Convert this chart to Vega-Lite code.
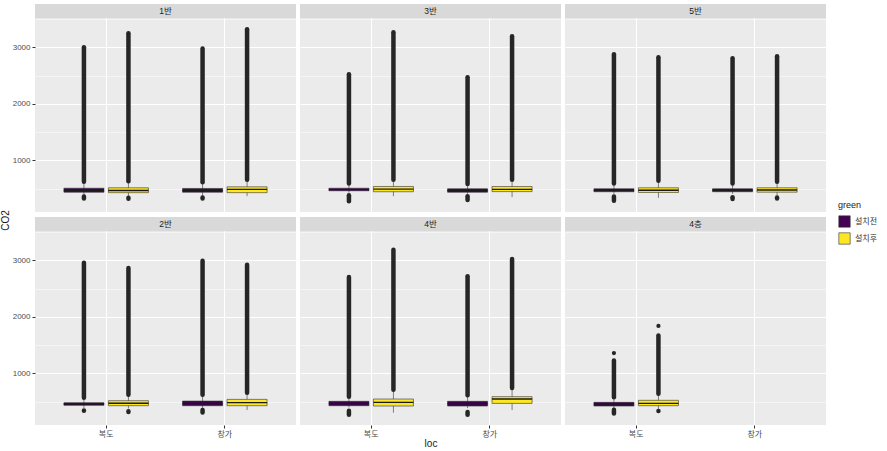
{
  "$schema": "https://vega.github.io/schema/vega-lite/v6.json",
  "padding": {"left": 0, "top": 4, "right": 5, "bottom": 5},
  "background": "white",
  "config": {
    "font": "Liberation Sans, Noto Sans CJK KR, sans-serif",
    "view": {"fill": "#EBEBEB", "stroke": null},
    "axis": {"domain": false, "labelColor": "#4D4D4D", "labelFontSize": 8, "tickColor": "#333333", "tickSize": 3, "titleFontWeight": "normal", "titleFontSize": 10, "titleColor": "#1A1A1A", "gridColor": "#FFFFFF"},
    "legend": {"orient": "none", "legendX": 803, "legendY": 197}
  },
  "data": {"values": [
    {"panel": "1반", "loc": "복도", "green": "설치전", "lo": 380, "q1": 440, "med": 475, "q3": 510, "hi": 600, "ohs": 625, "ohe": 3000, "ols": 330, "ole": 365},
    {"panel": "1반", "loc": "복도", "green": "설치후", "lo": 370, "q1": 432, "med": 470, "q3": 518, "hi": 610, "ohs": 635, "ohe": 3250, "ols": 325, "ole": 340},
    {"panel": "1반", "loc": "창가", "green": "설치전", "lo": 370, "q1": 440, "med": 470, "q3": 506, "hi": 590, "ohs": 615, "ohe": 2980, "ols": 330, "ole": 345},
    {"panel": "1반", "loc": "창가", "green": "설치후", "lo": 370, "q1": 432, "med": 490, "q3": 535, "hi": 640, "ohs": 660, "ohe": 3320},
    {"panel": "3반", "loc": "복도", "green": "설치전", "lo": 430, "q1": 465, "med": 485, "q3": 510, "hi": 570, "ohs": 595, "ohe": 2525, "ols": 280, "ole": 385},
    {"panel": "3반", "loc": "복도", "green": "설치후", "lo": 370, "q1": 448, "med": 494, "q3": 541, "hi": 636, "ohs": 660, "ohe": 3265},
    {"panel": "3반", "loc": "창가", "green": "설치전", "lo": 410, "q1": 440, "med": 470, "q3": 500, "hi": 560, "ohs": 585, "ohe": 2470, "ols": 300, "ole": 370},
    {"panel": "3반", "loc": "창가", "green": "설치후", "lo": 353, "q1": 450, "med": 490, "q3": 540, "hi": 636, "ohs": 660, "ohe": 3195},
    {"panel": "5반", "loc": "복도", "green": "설치전", "lo": 410, "q1": 448, "med": 475, "q3": 500, "hi": 570, "ohs": 595, "ohe": 2875, "ols": 290, "ole": 365},
    {"panel": "5반", "loc": "복도", "green": "설치후", "lo": 340, "q1": 435, "med": 475, "q3": 518, "hi": 615, "ohs": 640, "ohe": 2825},
    {"panel": "5반", "loc": "창가", "green": "설치전", "lo": 410, "q1": 448, "med": 475, "q3": 500, "hi": 570, "ohs": 595, "ohe": 2805, "ols": 320, "ole": 350},
    {"panel": "5반", "loc": "창가", "green": "설치후", "lo": 380, "q1": 440, "med": 480, "q3": 518, "hi": 600, "ohs": 625, "ohe": 2840, "ols": 330, "ole": 345},
    {"panel": "2반", "loc": "복도", "green": "설치전", "lo": 390, "q1": 437, "med": 460, "q3": 485, "hi": 545, "ohs": 570, "ohe": 2955, "ols": 340, "ole": 345},
    {"panel": "2반", "loc": "복도", "green": "설치후", "lo": 380, "q1": 431, "med": 475, "q3": 520, "hi": 600, "ohs": 625, "ohe": 2865, "ols": 320, "ole": 335},
    {"panel": "2반", "loc": "창가", "green": "설치전", "lo": 390, "q1": 431, "med": 470, "q3": 513, "hi": 600, "ohs": 625, "ohe": 2990, "ols": 310, "ole": 355},
    {"panel": "2반", "loc": "창가", "green": "설치후", "lo": 354, "q1": 431, "med": 485, "q3": 543, "hi": 638, "ohs": 660, "ohe": 2920},
    {"panel": "4반", "loc": "복도", "green": "설치전", "lo": 400, "q1": 431, "med": 470, "q3": 508, "hi": 561, "ohs": 590, "ohe": 2705, "ols": 270, "ole": 340},
    {"panel": "4반", "loc": "복도", "green": "설치후", "lo": 307, "q1": 425, "med": 490, "q3": 549, "hi": 690, "ohs": 715, "ohe": 3185},
    {"panel": "4반", "loc": "창가", "green": "설치전", "lo": 390, "q1": 425, "med": 470, "q3": 508, "hi": 590, "ohs": 615, "ohe": 2720, "ols": 270, "ole": 320},
    {"panel": "4반", "loc": "창가", "green": "설치후", "lo": 354, "q1": 472, "med": 549, "q3": 591, "hi": 720, "ohs": 745, "ohe": 3025},
    {"panel": "4층", "loc": "복도", "green": "설치전", "lo": 390, "q1": 425, "med": 465, "q3": 490, "hi": 556, "ohs": 580, "ohe": 1230, "ols": 295, "ole": 360, "pt": 1360},
    {"panel": "4층", "loc": "복도", "green": "설치후", "lo": 345, "q1": 431, "med": 472, "q3": 526, "hi": 615, "ohs": 640, "ohe": 1670, "ols": 336, "ole": 336, "pt": 1840}
  ]},
  "bounds": "flush",
  "columns": 3,
  "spacing": {"row": 5, "column": 4},
  "concat": [
      {"width": 261, "height": 208, "transform": [{"filter": {"field": "panel", "equal": "1반"}}], "resolve": {"axis": {"y": "independent"}}, "layer": [
        {"mark": {"type": "rule", "color": "#333333", "strokeWidth": 0.6}, "encoding": {
          "x": {"field": "loc", "type": "nominal", "scale": {"domain": ["복도", "창가"], "paddingInner": 0, "paddingOuter": 0.1}, "axis": {"grid": true, "gridWidth": 1.1, "bandPosition": 0.5, "labels": false, "ticks": false, "title": null}},
          "xOffset": {"field": "green", "type": "nominal", "scale": {"domain": ["설치전", "설치후"], "paddingInner": 0.1, "paddingOuter": 0.383}},
          "y": {"field": "lo", "type": "quantitative", "scale": {"domain": [90, 3765], "nice": false, "zero": false}, "axis": {"values": [1000, 2000, 3000], "format": "d", "grid": true, "gridWidth": 1.1, "labelPadding": 2, "title": "CO2", "titleY": 216, "titlePadding": 2}},
          "y2": {"field": "hi"}}},
        {"transform": [{"aggregate": [{"op": "count", "as": "n"}], "groupby": ["panel"]}], "mark": {"type": "rect", "color": "#D9D9D9"}, "encoding": {
          "y": {"datum": 3515, "type": "quantitative", "axis": {"orient": "right", "values": [500, 1500, 2500, 3500], "grid": true, "gridWidth": 0.5, "labels": false, "ticks": false, "title": null}},
          "y2": {"datum": 3765}}},
        {"transform": [{"aggregate": [{"op": "count", "as": "n"}], "groupby": ["panel"]}], "mark": {"type": "text", "fontSize": 8.5, "color": "#1A1A1A", "baseline": "middle"}, "encoding": {
          "text": {"field": "panel", "type": "nominal"}, "y": {"datum": 3640, "type": "quantitative", "axis": null}}},
        {"mark": {"type": "rule", "color": "#262626", "strokeWidth": 4.5, "strokeCap": "round"}, "encoding": {
          "x": {"field": "loc", "type": "nominal"}, "xOffset": {"field": "green", "type": "nominal"},
          "y": {"field": "ohs", "type": "quantitative", "axis": null}, "y2": {"field": "ohe"}}},
        {"mark": {"type": "rule", "color": "#262626", "strokeWidth": 4.5, "strokeCap": "round"}, "encoding": {
          "x": {"field": "loc", "type": "nominal"}, "xOffset": {"field": "green", "type": "nominal"},
          "y": {"field": "ols", "type": "quantitative", "axis": null}, "y2": {"field": "ole"}}},
        {"mark": {"type": "bar", "stroke": "#333333", "strokeWidth": 0.6}, "encoding": {
          "x": {"field": "loc", "type": "nominal"}, "xOffset": {"field": "green", "type": "nominal"},
          "y": {"field": "q1", "type": "quantitative", "axis": null}, "y2": {"field": "q3"},
          "fill": {"field": "green", "type": "nominal", "scale": {"domain": ["설치전", "설치후"], "range": ["#440154", "#FDE725"]},
                   "legend": {"title": "green", "symbolType": "square", "symbolSize": 130, "symbolStrokeColor": "#333333", "symbolStrokeWidth": 0.6, "titleFontSize": 9, "titleFontWeight": "normal", "titleColor": "#1A1A1A", "labelFontSize": 8, "labelColor": "#333333", "rowPadding": 2}}}},
        {"mark": {"type": "bar", "fillOpacity": 0, "stroke": "#1A1A1A", "strokeWidth": 1.4}, "encoding": {
          "x": {"field": "loc", "type": "nominal"}, "xOffset": {"field": "green", "type": "nominal"},
          "y": {"field": "med", "type": "quantitative", "axis": null}, "y2": {"field": "med"}}}
      ]},
      {"width": 261, "height": 208, "transform": [{"filter": {"field": "panel", "equal": "3반"}}], "resolve": {"axis": {"y": "independent"}}, "layer": [
        {"mark": {"type": "rule", "color": "#333333", "strokeWidth": 0.6}, "encoding": {
          "x": {"field": "loc", "type": "nominal", "scale": {"domain": ["복도", "창가"], "paddingInner": 0, "paddingOuter": 0.1}, "axis": {"grid": true, "gridWidth": 1.1, "bandPosition": 0.5, "labels": false, "ticks": false, "title": null}},
          "xOffset": {"field": "green", "type": "nominal", "scale": {"domain": ["설치전", "설치후"], "paddingInner": 0.1, "paddingOuter": 0.383}},
          "y": {"field": "lo", "type": "quantitative", "scale": {"domain": [90, 3765], "nice": false, "zero": false}, "axis": {"values": [1000, 2000, 3000], "grid": true, "gridWidth": 1.1, "labels": false, "ticks": false, "title": null}},
          "y2": {"field": "hi"}}},
        {"transform": [{"aggregate": [{"op": "count", "as": "n"}], "groupby": ["panel"]}], "mark": {"type": "rect", "color": "#D9D9D9"}, "encoding": {
          "y": {"datum": 3515, "type": "quantitative", "axis": {"orient": "right", "values": [500, 1500, 2500, 3500], "grid": true, "gridWidth": 0.5, "labels": false, "ticks": false, "title": null}},
          "y2": {"datum": 3765}}},
        {"transform": [{"aggregate": [{"op": "count", "as": "n"}], "groupby": ["panel"]}], "mark": {"type": "text", "fontSize": 8.5, "color": "#1A1A1A", "baseline": "middle"}, "encoding": {
          "text": {"field": "panel", "type": "nominal"}, "y": {"datum": 3640, "type": "quantitative", "axis": null}}},
        {"mark": {"type": "rule", "color": "#262626", "strokeWidth": 4.5, "strokeCap": "round"}, "encoding": {
          "x": {"field": "loc", "type": "nominal"}, "xOffset": {"field": "green", "type": "nominal"},
          "y": {"field": "ohs", "type": "quantitative", "axis": null}, "y2": {"field": "ohe"}}},
        {"mark": {"type": "rule", "color": "#262626", "strokeWidth": 4.5, "strokeCap": "round"}, "encoding": {
          "x": {"field": "loc", "type": "nominal"}, "xOffset": {"field": "green", "type": "nominal"},
          "y": {"field": "ols", "type": "quantitative", "axis": null}, "y2": {"field": "ole"}}},
        {"mark": {"type": "bar", "stroke": "#333333", "strokeWidth": 0.6}, "encoding": {
          "x": {"field": "loc", "type": "nominal"}, "xOffset": {"field": "green", "type": "nominal"},
          "y": {"field": "q1", "type": "quantitative", "axis": null}, "y2": {"field": "q3"},
          "fill": {"field": "green", "type": "nominal", "scale": {"domain": ["설치전", "설치후"], "range": ["#440154", "#FDE725"]},
                   "legend": {"title": "green", "symbolType": "square", "symbolSize": 130, "symbolStrokeColor": "#333333", "symbolStrokeWidth": 0.6, "titleFontSize": 9, "titleFontWeight": "normal", "titleColor": "#1A1A1A", "labelFontSize": 8, "labelColor": "#333333", "rowPadding": 2}}}},
        {"mark": {"type": "bar", "fillOpacity": 0, "stroke": "#1A1A1A", "strokeWidth": 1.4}, "encoding": {
          "x": {"field": "loc", "type": "nominal"}, "xOffset": {"field": "green", "type": "nominal"},
          "y": {"field": "med", "type": "quantitative", "axis": null}, "y2": {"field": "med"}}}
      ]},
      {"width": 261, "height": 208, "transform": [{"filter": {"field": "panel", "equal": "5반"}}], "resolve": {"axis": {"y": "independent"}}, "layer": [
        {"mark": {"type": "rule", "color": "#333333", "strokeWidth": 0.6}, "encoding": {
          "x": {"field": "loc", "type": "nominal", "scale": {"domain": ["복도", "창가"], "paddingInner": 0, "paddingOuter": 0.1}, "axis": {"grid": true, "gridWidth": 1.1, "bandPosition": 0.5, "labels": false, "ticks": false, "title": null}},
          "xOffset": {"field": "green", "type": "nominal", "scale": {"domain": ["설치전", "설치후"], "paddingInner": 0.1, "paddingOuter": 0.383}},
          "y": {"field": "lo", "type": "quantitative", "scale": {"domain": [90, 3765], "nice": false, "zero": false}, "axis": {"values": [1000, 2000, 3000], "grid": true, "gridWidth": 1.1, "labels": false, "ticks": false, "title": null}},
          "y2": {"field": "hi"}}},
        {"transform": [{"aggregate": [{"op": "count", "as": "n"}], "groupby": ["panel"]}], "mark": {"type": "rect", "color": "#D9D9D9"}, "encoding": {
          "y": {"datum": 3515, "type": "quantitative", "axis": {"orient": "right", "values": [500, 1500, 2500, 3500], "grid": true, "gridWidth": 0.5, "labels": false, "ticks": false, "title": null}},
          "y2": {"datum": 3765}}},
        {"transform": [{"aggregate": [{"op": "count", "as": "n"}], "groupby": ["panel"]}], "mark": {"type": "text", "fontSize": 8.5, "color": "#1A1A1A", "baseline": "middle"}, "encoding": {
          "text": {"field": "panel", "type": "nominal"}, "y": {"datum": 3640, "type": "quantitative", "axis": null}}},
        {"mark": {"type": "rule", "color": "#262626", "strokeWidth": 4.5, "strokeCap": "round"}, "encoding": {
          "x": {"field": "loc", "type": "nominal"}, "xOffset": {"field": "green", "type": "nominal"},
          "y": {"field": "ohs", "type": "quantitative", "axis": null}, "y2": {"field": "ohe"}}},
        {"mark": {"type": "rule", "color": "#262626", "strokeWidth": 4.5, "strokeCap": "round"}, "encoding": {
          "x": {"field": "loc", "type": "nominal"}, "xOffset": {"field": "green", "type": "nominal"},
          "y": {"field": "ols", "type": "quantitative", "axis": null}, "y2": {"field": "ole"}}},
        {"mark": {"type": "bar", "stroke": "#333333", "strokeWidth": 0.6}, "encoding": {
          "x": {"field": "loc", "type": "nominal"}, "xOffset": {"field": "green", "type": "nominal"},
          "y": {"field": "q1", "type": "quantitative", "axis": null}, "y2": {"field": "q3"},
          "fill": {"field": "green", "type": "nominal", "scale": {"domain": ["설치전", "설치후"], "range": ["#440154", "#FDE725"]},
                   "legend": {"title": "green", "symbolType": "square", "symbolSize": 130, "symbolStrokeColor": "#333333", "symbolStrokeWidth": 0.6, "titleFontSize": 9, "titleFontWeight": "normal", "titleColor": "#1A1A1A", "labelFontSize": 8, "labelColor": "#333333", "rowPadding": 2}}}},
        {"mark": {"type": "bar", "fillOpacity": 0, "stroke": "#1A1A1A", "strokeWidth": 1.4}, "encoding": {
          "x": {"field": "loc", "type": "nominal"}, "xOffset": {"field": "green", "type": "nominal"},
          "y": {"field": "med", "type": "quantitative", "axis": null}, "y2": {"field": "med"}}}
      ]},
      {"width": 261, "height": 208, "transform": [{"filter": {"field": "panel", "equal": "2반"}}], "resolve": {"axis": {"y": "independent"}}, "layer": [
        {"mark": {"type": "rule", "color": "#333333", "strokeWidth": 0.6}, "encoding": {
          "x": {"field": "loc", "type": "nominal", "scale": {"domain": ["복도", "창가"], "paddingInner": 0, "paddingOuter": 0.1}, "axis": {"labelAngle": 0, "grid": true, "gridWidth": 1.1, "bandPosition": 0.5, "labelPadding": 2, "title": null}},
          "xOffset": {"field": "green", "type": "nominal", "scale": {"domain": ["설치전", "설치후"], "paddingInner": 0.1, "paddingOuter": 0.383}},
          "y": {"field": "lo", "type": "quantitative", "scale": {"domain": [90, 3765], "nice": false, "zero": false}, "axis": {"values": [1000, 2000, 3000], "format": "d", "grid": true, "gridWidth": 1.1, "labelPadding": 2, "title": null}},
          "y2": {"field": "hi"}}},
        {"transform": [{"aggregate": [{"op": "count", "as": "n"}], "groupby": ["panel"]}], "mark": {"type": "rect", "color": "#D9D9D9"}, "encoding": {
          "y": {"datum": 3515, "type": "quantitative", "axis": {"orient": "right", "values": [500, 1500, 2500, 3500], "grid": true, "gridWidth": 0.5, "labels": false, "ticks": false, "title": null}},
          "y2": {"datum": 3765}}},
        {"transform": [{"aggregate": [{"op": "count", "as": "n"}], "groupby": ["panel"]}], "mark": {"type": "text", "fontSize": 8.5, "color": "#1A1A1A", "baseline": "middle"}, "encoding": {
          "text": {"field": "panel", "type": "nominal"}, "y": {"datum": 3640, "type": "quantitative", "axis": null}}},
        {"mark": {"type": "rule", "color": "#262626", "strokeWidth": 4.5, "strokeCap": "round"}, "encoding": {
          "x": {"field": "loc", "type": "nominal"}, "xOffset": {"field": "green", "type": "nominal"},
          "y": {"field": "ohs", "type": "quantitative", "axis": null}, "y2": {"field": "ohe"}}},
        {"mark": {"type": "rule", "color": "#262626", "strokeWidth": 4.5, "strokeCap": "round"}, "encoding": {
          "x": {"field": "loc", "type": "nominal"}, "xOffset": {"field": "green", "type": "nominal"},
          "y": {"field": "ols", "type": "quantitative", "axis": null}, "y2": {"field": "ole"}}},
        {"mark": {"type": "bar", "stroke": "#333333", "strokeWidth": 0.6}, "encoding": {
          "x": {"field": "loc", "type": "nominal"}, "xOffset": {"field": "green", "type": "nominal"},
          "y": {"field": "q1", "type": "quantitative", "axis": null}, "y2": {"field": "q3"},
          "fill": {"field": "green", "type": "nominal", "scale": {"domain": ["설치전", "설치후"], "range": ["#440154", "#FDE725"]},
                   "legend": {"title": "green", "symbolType": "square", "symbolSize": 130, "symbolStrokeColor": "#333333", "symbolStrokeWidth": 0.6, "titleFontSize": 9, "titleFontWeight": "normal", "titleColor": "#1A1A1A", "labelFontSize": 8, "labelColor": "#333333", "rowPadding": 2}}}},
        {"mark": {"type": "bar", "fillOpacity": 0, "stroke": "#1A1A1A", "strokeWidth": 1.4}, "encoding": {
          "x": {"field": "loc", "type": "nominal"}, "xOffset": {"field": "green", "type": "nominal"},
          "y": {"field": "med", "type": "quantitative", "axis": null}, "y2": {"field": "med"}}}
      ]},
      {"width": 261, "height": 208, "transform": [{"filter": {"field": "panel", "equal": "4반"}}], "resolve": {"axis": {"y": "independent"}}, "layer": [
        {"mark": {"type": "rule", "color": "#333333", "strokeWidth": 0.6}, "encoding": {
          "x": {"field": "loc", "type": "nominal", "scale": {"domain": ["복도", "창가"], "paddingInner": 0, "paddingOuter": 0.1}, "axis": {"labelAngle": 0, "grid": true, "gridWidth": 1.1, "bandPosition": 0.5, "labelPadding": 2, "title": "loc", "titlePadding": 0}},
          "xOffset": {"field": "green", "type": "nominal", "scale": {"domain": ["설치전", "설치후"], "paddingInner": 0.1, "paddingOuter": 0.383}},
          "y": {"field": "lo", "type": "quantitative", "scale": {"domain": [90, 3765], "nice": false, "zero": false}, "axis": {"values": [1000, 2000, 3000], "grid": true, "gridWidth": 1.1, "labels": false, "ticks": false, "title": null}},
          "y2": {"field": "hi"}}},
        {"transform": [{"aggregate": [{"op": "count", "as": "n"}], "groupby": ["panel"]}], "mark": {"type": "rect", "color": "#D9D9D9"}, "encoding": {
          "y": {"datum": 3515, "type": "quantitative", "axis": {"orient": "right", "values": [500, 1500, 2500, 3500], "grid": true, "gridWidth": 0.5, "labels": false, "ticks": false, "title": null}},
          "y2": {"datum": 3765}}},
        {"transform": [{"aggregate": [{"op": "count", "as": "n"}], "groupby": ["panel"]}], "mark": {"type": "text", "fontSize": 8.5, "color": "#1A1A1A", "baseline": "middle"}, "encoding": {
          "text": {"field": "panel", "type": "nominal"}, "y": {"datum": 3640, "type": "quantitative", "axis": null}}},
        {"mark": {"type": "rule", "color": "#262626", "strokeWidth": 4.5, "strokeCap": "round"}, "encoding": {
          "x": {"field": "loc", "type": "nominal"}, "xOffset": {"field": "green", "type": "nominal"},
          "y": {"field": "ohs", "type": "quantitative", "axis": null}, "y2": {"field": "ohe"}}},
        {"mark": {"type": "rule", "color": "#262626", "strokeWidth": 4.5, "strokeCap": "round"}, "encoding": {
          "x": {"field": "loc", "type": "nominal"}, "xOffset": {"field": "green", "type": "nominal"},
          "y": {"field": "ols", "type": "quantitative", "axis": null}, "y2": {"field": "ole"}}},
        {"mark": {"type": "bar", "stroke": "#333333", "strokeWidth": 0.6}, "encoding": {
          "x": {"field": "loc", "type": "nominal"}, "xOffset": {"field": "green", "type": "nominal"},
          "y": {"field": "q1", "type": "quantitative", "axis": null}, "y2": {"field": "q3"},
          "fill": {"field": "green", "type": "nominal", "scale": {"domain": ["설치전", "설치후"], "range": ["#440154", "#FDE725"]},
                   "legend": {"title": "green", "symbolType": "square", "symbolSize": 130, "symbolStrokeColor": "#333333", "symbolStrokeWidth": 0.6, "titleFontSize": 9, "titleFontWeight": "normal", "titleColor": "#1A1A1A", "labelFontSize": 8, "labelColor": "#333333", "rowPadding": 2}}}},
        {"mark": {"type": "bar", "fillOpacity": 0, "stroke": "#1A1A1A", "strokeWidth": 1.4}, "encoding": {
          "x": {"field": "loc", "type": "nominal"}, "xOffset": {"field": "green", "type": "nominal"},
          "y": {"field": "med", "type": "quantitative", "axis": null}, "y2": {"field": "med"}}}
      ]},
      {"width": 261, "height": 208, "transform": [{"filter": {"field": "panel", "equal": "4층"}}], "resolve": {"axis": {"y": "independent"}}, "layer": [
        {"mark": {"type": "rule", "color": "#333333", "strokeWidth": 0.6}, "encoding": {
          "x": {"field": "loc", "type": "nominal", "scale": {"domain": ["복도", "창가"], "paddingInner": 0, "paddingOuter": 0.1}, "axis": {"labelAngle": 0, "grid": true, "gridWidth": 1.1, "bandPosition": 0.5, "labelPadding": 2, "title": null}},
          "xOffset": {"field": "green", "type": "nominal", "scale": {"domain": ["설치전", "설치후"], "paddingInner": 0.1, "paddingOuter": 0.383}},
          "y": {"field": "lo", "type": "quantitative", "scale": {"domain": [90, 3765], "nice": false, "zero": false}, "axis": {"values": [1000, 2000, 3000], "grid": true, "gridWidth": 1.1, "labels": false, "ticks": false, "title": null}},
          "y2": {"field": "hi"}}},
        {"transform": [{"aggregate": [{"op": "count", "as": "n"}], "groupby": ["panel"]}], "mark": {"type": "rect", "color": "#D9D9D9"}, "encoding": {
          "y": {"datum": 3515, "type": "quantitative", "axis": {"orient": "right", "values": [500, 1500, 2500, 3500], "grid": true, "gridWidth": 0.5, "labels": false, "ticks": false, "title": null}},
          "y2": {"datum": 3765}}},
        {"transform": [{"aggregate": [{"op": "count", "as": "n"}], "groupby": ["panel"]}], "mark": {"type": "text", "fontSize": 8.5, "color": "#1A1A1A", "baseline": "middle"}, "encoding": {
          "text": {"field": "panel", "type": "nominal"}, "y": {"datum": 3640, "type": "quantitative", "axis": null}}},
        {"mark": {"type": "rule", "color": "#262626", "strokeWidth": 4.5, "strokeCap": "round"}, "encoding": {
          "x": {"field": "loc", "type": "nominal"}, "xOffset": {"field": "green", "type": "nominal"},
          "y": {"field": "ohs", "type": "quantitative", "axis": null}, "y2": {"field": "ohe"}}},
        {"mark": {"type": "rule", "color": "#262626", "strokeWidth": 4.5, "strokeCap": "round"}, "encoding": {
          "x": {"field": "loc", "type": "nominal"}, "xOffset": {"field": "green", "type": "nominal"},
          "y": {"field": "ols", "type": "quantitative", "axis": null}, "y2": {"field": "ole"}}},
        {"mark": {"type": "point", "filled": true, "color": "#262626", "size": 18, "opacity": 1}, "encoding": {
          "x": {"field": "loc", "type": "nominal"}, "xOffset": {"field": "green", "type": "nominal"},
          "y": {"field": "pt", "type": "quantitative", "axis": null}}},
        {"mark": {"type": "bar", "stroke": "#333333", "strokeWidth": 0.6}, "encoding": {
          "x": {"field": "loc", "type": "nominal"}, "xOffset": {"field": "green", "type": "nominal"},
          "y": {"field": "q1", "type": "quantitative", "axis": null}, "y2": {"field": "q3"},
          "fill": {"field": "green", "type": "nominal", "scale": {"domain": ["설치전", "설치후"], "range": ["#440154", "#FDE725"]},
                   "legend": {"title": "green", "symbolType": "square", "symbolSize": 130, "symbolStrokeColor": "#333333", "symbolStrokeWidth": 0.6, "titleFontSize": 9, "titleFontWeight": "normal", "titleColor": "#1A1A1A", "labelFontSize": 8, "labelColor": "#333333", "rowPadding": 2}}}},
        {"mark": {"type": "bar", "fillOpacity": 0, "stroke": "#1A1A1A", "strokeWidth": 1.4}, "encoding": {
          "x": {"field": "loc", "type": "nominal"}, "xOffset": {"field": "green", "type": "nominal"},
          "y": {"field": "med", "type": "quantitative", "axis": null}, "y2": {"field": "med"}}}
      ]}
  ]
}
